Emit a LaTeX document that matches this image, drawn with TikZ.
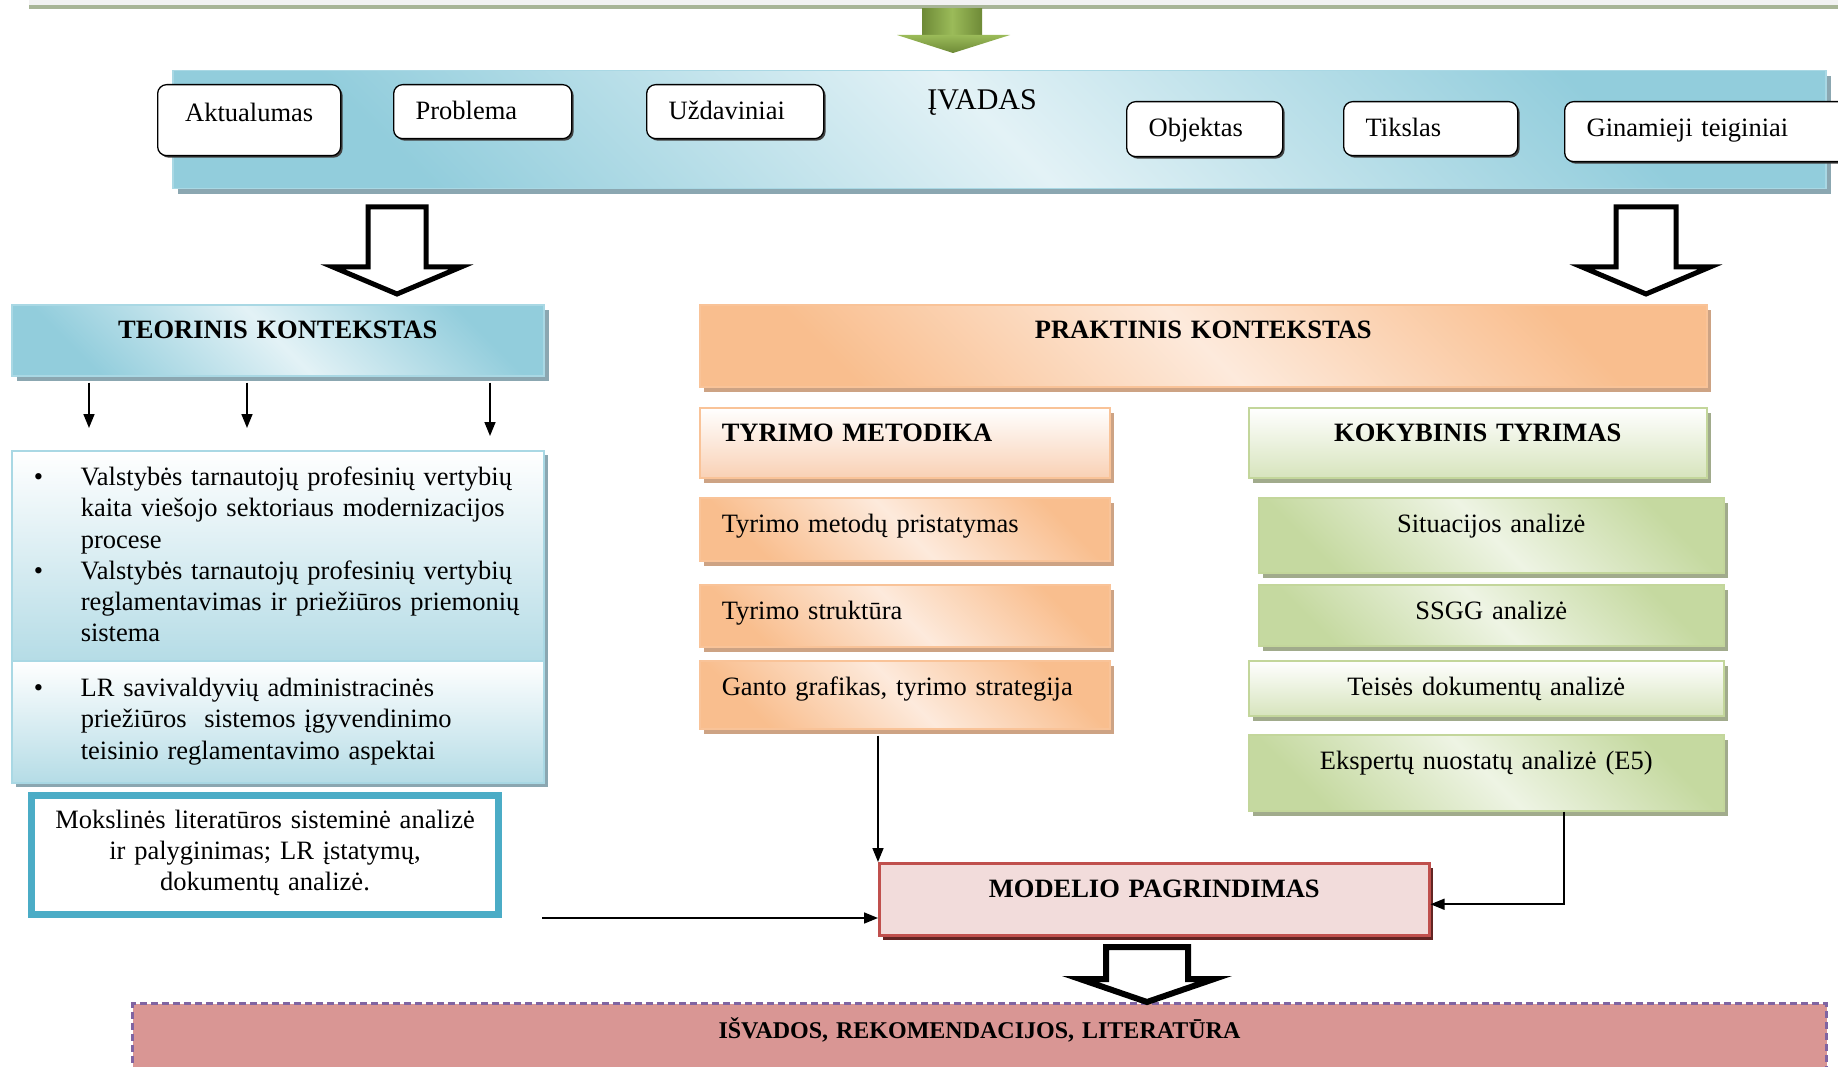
\documentclass[tikz,border=0pt]{standalone}
\usepackage{fontspec}
\setmainfont{Liberation Serif}
\usetikzlibrary{shadows,arrows.meta}

\definecolor{bluedark}{HTML}{92CDDC}
\definecolor{bluelight}{HTML}{E3F2F6}
\definecolor{bluefadec}{HTML}{B5DCE6}
\definecolor{blueline}{HTML}{A9D8E4}
\definecolor{blueshadow}{HTML}{8BA7B1}
\definecolor{orangedark}{HTML}{F9BE8E}
\definecolor{orangelight}{HTML}{FDEADC}
\definecolor{orangefadec}{HTML}{F9D1B5}
\definecolor{orangeline}{HTML}{F9C398}
\definecolor{orangeshadow}{HTML}{CDA384}
\definecolor{greendark}{HTML}{C5D9A0}
\definecolor{greenlight}{HTML}{EEF4E4}
\definecolor{greenfadec}{HTML}{D7E4BD}
\definecolor{greenline}{HTML}{C3D69B}
\definecolor{greenshadow}{HTML}{A1AB8C}
\definecolor{tealline}{HTML}{4BACC6}
\definecolor{modelfill}{HTML}{F2DCDB}
\definecolor{modelline}{HTML}{C0504D}
\definecolor{modelshadow}{HTML}{632523}
\definecolor{outfill}{HTML}{D99694}
\definecolor{outborder}{HTML}{8064A2}
\definecolor{topgray}{HTML}{F2F2F2}
\definecolor{topolive}{HTML}{A8B597}
\definecolor{arrgreen}{HTML}{9BBB59}
\definecolor{arrgreendark}{HTML}{6E8A37}

\newcommand{\bulmark}{\makebox[49pt][l]{\hspace{2pt}\textbullet}}
\newcommand{\bulind}{\hspace*{49pt}}

\tikzset{
  txt/.style={font=\fontsize{26.5}{31.2}\selectfont},
  head/.style={font=\fontsize{26.5}{31.2}\selectfont\bfseries},
  plainbox/.style={txt, anchor=north west, inner ysep=0pt, inner xsep=22pt, align=left},
  minibox/.style={plainbox, draw, fill=white, rounded corners=9pt, line width=1.3pt,
    text height=35pt, text depth=19pt,
    drop shadow={shadow xshift=2pt, shadow yshift=-2pt, fill=black!75, opacity=1}},
  bluebox/.style={plainbox, draw=blueline, line width=1.5pt,
    top color=bluedark, bottom color=bluedark, middle color=bluelight, shading angle=-45,
    drop shadow={shadow xshift=5pt, shadow yshift=-5pt, fill=blueshadow, opacity=1}},
  bluefade/.style={plainbox, draw=blueline, line width=1.5pt,
    top color=white, bottom color=bluefadec,
    drop shadow={shadow xshift=4pt, shadow yshift=-4pt, fill=blueshadow, opacity=1}},
  orangebox/.style={plainbox, draw=orangeline, line width=1.5pt,
    top color=orangedark, bottom color=orangedark, middle color=orangelight, shading angle=-45,
    drop shadow={shadow xshift=4pt, shadow yshift=-5pt, fill=orangeshadow, opacity=1}},
  orangefade/.style={plainbox, draw=orangeline, line width=1.5pt,
    top color=white, bottom color=orangefadec,
    drop shadow={shadow xshift=4pt, shadow yshift=-5pt, fill=orangeshadow, opacity=1}},
  greenbox/.style={plainbox, draw=greenline, line width=1.5pt,
    top color=greendark, bottom color=greendark, middle color=greenlight, shading angle=-45,
    drop shadow={shadow xshift=4pt, shadow yshift=-5pt, fill=greenshadow, opacity=1}},
  greenfade/.style={plainbox, draw=greenline, line width=1.5pt,
    top color=white, bottom color=greenfadec,
    drop shadow={shadow xshift=4pt, shadow yshift=-5pt, fill=greenshadow, opacity=1}},
  modelbox/.style={plainbox, draw=modelline, line width=2.5pt, fill=modelfill,
    drop shadow={shadow xshift=4pt, shadow yshift=-5pt, fill=modelshadow, opacity=1}},
  outbox/.style={plainbox, draw=outborder, line width=3pt, dash pattern=on 7pt off 4pt, fill=outfill},
  hollow/.style={draw, fill=white, line width=5pt, line join=miter},
  arr/.style={-{Triangle[length=14pt,width=11pt]}, line width=1.6pt}
}

\begin{document}
\begin{tikzpicture}[x=1pt, y=-1pt]
  \useasboundingbox (0,0) rectangle (1838,1067);

  % top strip and green arrow
  \fill[topgray] (29,0) rectangle (1838,5);
  \draw[topolive, line width=4pt] (29,7) -- (1838,7);
  \shade[left color=arrgreendark, right color=arrgreendark, middle color=arrgreen] (922,9) rectangle (982,36);
  \shade[top color=arrgreen, bottom color=arrgreendark] (897,35) -- (1010,35) -- (953,53) -- cycle;

  % introduction
  \node[bluebox, minimum width=1653pt, minimum height=118pt] (ivadas) at (172,70) {};
  \node[font=\fontsize{30}{36}\selectfont, anchor=base] (ivadastxt) at (982,110) {ĮVADAS};

  \node[minibox, text width=139pt, align=center, text height=37pt, text depth=34pt] (aktual) at (157,84) {Aktualumas};
  \node[minibox, text width=134pt] (problema) at (393,84) {Problema};
  \node[minibox, text width=133pt] (uzdav) at (646,84) {Uždaviniai};
  \node[minibox, text width=112pt, text height=35pt, text depth=20pt] (objekt) at (1126,101) {Objektas};
  \node[minibox, text width=130pt, text height=35pt, text depth=19pt] (tikslas) at (1343,101) {Tikslas};
  \node[minibox, text width=240pt, text height=35pt, text depth=25pt] (ginam) at (1564,101) {Ginamieji teiginiai};

  % big hollow arrows
  \draw[hollow] (368,207) -- (426,207) -- (426,267) -- (461,267) -- (397,294) -- (333,267) -- (368,267) -- cycle;
  \draw[hollow] (1616,207) -- (1676,207) -- (1676,267) -- (1710,267) -- (1646,294) -- (1582,267) -- (1616,267) -- cycle;

  % theory side
  \node[bluebox, head, text width=488pt, align=center, text height=34pt, text depth=37pt] (teor) at (11,304) {TEORINIS KONTEKSTAS};

  \node[bluefade, inner xsep=20pt, text width=492pt, text height=35pt, text depth=175pt] (bulA) at (11,450)
    {\bulmark Valstybės tarnautojų profesinių vertybių\\
     \bulind kaita viešojo sektoriaus modernizacijos\\
     \bulind procese\\
     \bulmark Valstybės tarnautojų profesinių vertybių\\
     \bulind reglamentavimas ir priežiūros priemonių\\
     \bulind sistema};
  \node[bluefade, inner xsep=20pt, text width=492pt, text height=36pt, text depth=86pt] (bulB) at (11,660)
    {\bulmark LR savivaldyvių administracinės\\
     \bulind priežiūros~ sistemos įgyvendinimo\\
     \bulind teisinio reglamentavimo aspektai};

  \node[txt, draw=tealline, line width=7pt, fill=white, anchor=north, inner ysep=0pt, inner xsep=22pt,
    text width=423pt, align=center, text height=33.5pt, text depth=85.5pt] (moksl) at (265,791.5)
    {Mokslinės literatūros sisteminė analizė\\ir palyginimas; LR įstatymų,\\dokumentų analizė.};

  \draw[arr] ([xshift=78pt,yshift=-6pt]teor.south west) -- ([xshift=78pt,yshift=22pt]bulA.north west);
  \draw[arr] ([xshift=236pt,yshift=-6pt]teor.south west) -- ([xshift=236pt,yshift=22pt]bulA.north west);
  \draw[arr] ([xshift=479pt,yshift=-6pt]teor.south west) -- ([xshift=479pt,yshift=14pt]bulA.north west);

  % practical side
  \node[orangebox, head, text width=963pt, align=center, text height=34pt, text depth=48pt] (prakt) at (699,304) {PRAKTINIS KONTEKSTAS};

  \node[orangefade, head, text width=366pt, text height=34pt, text depth=36pt] (metod) at (699,407) {TYRIMO METODIKA};
  \node[orangebox, text width=366pt, text height=35pt, text depth=28pt] (metpr) at (699,497) {Tyrimo metodų pristatymas};
  \node[orangebox, text width=366pt, text height=35pt, text depth=27pt] (strukt) at (699,584) {Tyrimo struktūra};
  \node[orangebox, text width=366pt, text height=35pt, text depth=33pt] (ganto) at (699,660) {Ganto grafikas, tyrimo strategija};

  \node[greenfade, head, text width=414pt, align=center, text height=34pt, text depth=36pt] (kokyb) at (1248,407) {KOKYBINIS TYRIMAS};
  \node[greenbox, text width=421pt, align=center, text height=35pt, text depth=40pt] (situac) at (1258,497) {Situacijos analizė};
  \node[greenbox, text width=421pt, align=center, text height=35pt, text depth=26pt] (ssgg) at (1258,584) {SSGG analizė};
  \node[greenfade, text width=431pt, align=center, text height=35pt, text depth=20pt] (teises) at (1248,660) {Teisės dokumentų analizė};
  \node[greenbox, text width=431pt, align=center, text height=35pt, text depth=41pt] (eksp) at (1248,734) {Ekspertų nuostatų analizė (E5)};

  % model and conclusions
  \node[modelbox, head, text width=506pt, align=center, text height=34pt, text depth=38pt] (model) at (878,862) {MODELIO PAGRINDIMAS};

  \coordinate (mokout) at (542,918);
  \draw[arr] (mokout) -- (mokout -| model.west);
  \draw[arr] (model.west |- ganto.south) ++(0,6) -- (model.north west);
  \draw[arr] ([xshift=77.5pt]eksp.south) |- ([yshift=-5pt]model.east);

  \node[outbox, font=\fontsize{24}{29}\selectfont\bfseries, text width=1650pt, align=center, text height=35pt, text depth=100pt] (isvad) at (131,1002) {IŠVADOS, REKOMENDACIJOS, LITERATŪRA};

  \draw[hollow, line width=6pt] (1106,947) -- (1188,947) -- (1188,979) -- (1214,979) -- (1147,1002) -- (1080,979) -- (1106,979) -- cycle;
\end{tikzpicture}
\end{document}
